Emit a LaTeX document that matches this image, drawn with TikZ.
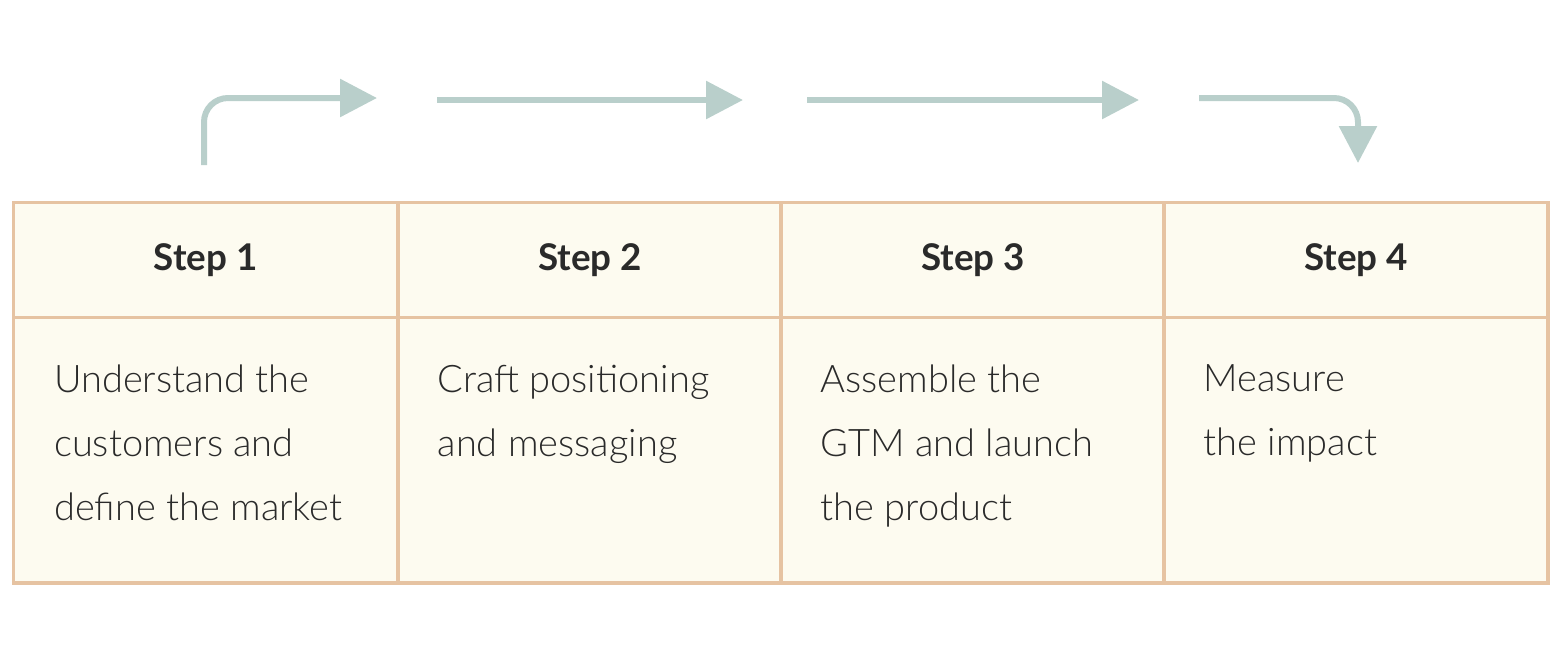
\documentclass[tikz,border=0pt]{standalone}
\usepackage{fontspec}
\setmainfont{Lato}[UprightFont=* Light, BoldFont=* Bold]
\usepackage{tikz}
\usetikzlibrary{arrows.meta}
\usetikzlibrary{positioning}

\definecolor{cellline}{HTML}{E6C3A2}
\definecolor{cellfill}{HTML}{FDFBF0}
\definecolor{flowcol}{HTML}{B9CFCB}
\definecolor{inkcol}{HTML}{2A2A2A}

\tikzset{
  headcell/.style={draw=cellline, fill=cellfill, line width=1.75pt,
    minimum width=192pt, minimum height=57.5pt, inner sep=0pt,
    font=\bfseries\fontsize{18.4}{20}\selectfont, text=inkcol},
  bodycell/.style={draw=cellline, fill=cellfill, line width=1.75pt,
    minimum width=192pt, minimum height=133.5pt, inner sep=0pt},
  bodytext/.style={anchor=north west, align=left, inner sep=0pt,
    font=\fontsize{19}{32}\selectfont, text=inkcol},
  flow/.style={draw=flowcol, line width=3pt,
    -{Triangle[length=18.5pt,width=18.5pt]}},
}

\begin{document}
\begin{tikzpicture}[x=0.5pt,y=-0.5pt]
    \useasboundingbox (0,0) rectangle (1560,666);

    % table
    \node[bodycell] (b1) at (205.5,449.5) {};
    \node[bodycell] (b2) at (590,449.5) {};
    \node[bodycell] (b3) at (973,449.5) {};
    \node[bodycell] (b4) at (1356,449.5) {};
    \node[headcell] (h1) at (205.5,260) {Step 1};
    \node[headcell] (h2) at (590,260) {Step 2};
    \node[headcell] (h3) at (973,260) {Step 3};
    \node[headcell] (h4) at (1356,260) {Step 4};

    \node[bodytext] (t1) at ([shift={(42,50)}]b1.north west)
      {Understand the\\customers and\\define the market};
    \node[bodytext] (t2) at ([shift={(41,50)}]b2.north west)
      {Craft positioning\\and messaging};
    \node[bodytext] (t3) at ([shift={(41,50)}]b3.north west)
      {Assemble the\\GTM and launch\\the product};
    \node[bodytext] (t4) at ([shift={(41,50)}]b4.north west)
      {Measure\\the impact};

    % flow arrows
    \coordinate (s1) at (204,165);
    \coordinate (e1) at (377,98);
    \coordinate (s2) at (437,100);
    \coordinate (e2) at (743,100);
    \coordinate (s3) at (807,100);
    \coordinate (e3) at (1139,100);
    \coordinate (s4) at (1199,98);
    \coordinate (e4) at (1358,163);

    \draw[flow, rounded corners=12pt] (s1) |- (e1);
    \draw[flow] (s2) -- (e2);
    \draw[flow] (s3) -- (e3);
    \draw[flow, rounded corners=12pt] (s4) -| (e4);
\end{tikzpicture}
\end{document}
